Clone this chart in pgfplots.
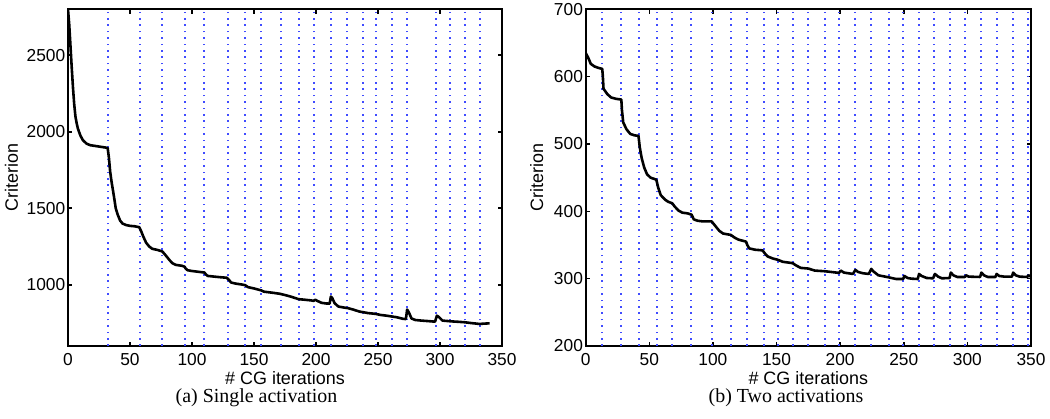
\documentclass[border=0pt]{standalone}
\usepackage{fontspec}
\setmainfont{Liberation Serif}
\setsansfont{Liberation Sans}
\usepackage{pgfplots}
\pgfplotsset{compat=1.18}
\definecolor{dotblue}{rgb}{0.25,0.3,1}
\pgfplotsset{
  mystyle/.style={
    scale only axis,
    anchor=south west,
    axis line style={black, line width=0.9pt},
    tick style={black, line width=0.8pt},
    major tick length=2.2bp,
    tick align=inside,
    xmin=0, xmax=350,
    xtick={0,50,...,350},
    scaled ticks=false,
    /pgf/number format/1000 sep={},
    /pgf/number format/assume math mode=true,
    tick label style={font=\sffamily\fontsize{8.7}{10}\selectfont, black},
    yticklabel style={inner sep=1.2bp},
    label style={font=\sffamily\fontsize{9}{10}\selectfont, black},
    xlabel={\# CG iterations},
    ylabel={Criterion},
    clip=true,
  },
  vl/.style={ycomb, dotblue, line width=1pt, dash pattern=on 0.8bp off 2.4bp, mark=none},
  crv/.style={black, line width=1.3pt, mark=none, line join=round},
}
\begin{document}
\begin{tikzpicture}
\path[use as bounding box] (0,0) rectangle (525bp,209.5bp);
% ---------------- left ----------------
\begin{axis}[mystyle,
  at={(34bp,36.5bp)},
  width=217bp, height=168.35bp,
  ymin=600, ymax=2800,
  ytick={1000,1500,2000,2500},
  xlabel style={at={(axis description cs:0.5,-0.095)}, anchor=center},
  ylabel style={at={(axis description cs:-0.13,0.5)}, anchor=center},
]
\addplot[vl] coordinates {(32,2800) (58,2800) (76,2800) (94,2800) (110,2800) (129,2800) (143,2800) (156,2800) (172,2800) (186,2800) (198,2800) (212,2800) (225,2800) (238,2800) (248,2800) (261,2800) (273,2800) (297,2800) (308,2800) (320,2800) (332,2800)};
\addplot[crv] coordinates {
(0,2800) (1,2700) (2,2560) (3,2420) (4,2290) (5,2180) (6,2100) (7,2055) (8,2020) (10,1975) (12,1945) (15,1922) (18,1912) (22,1907) (26,1902) (30,1897) (32,1893)
(33,1830) (34,1740) (35,1680) (37,1580) (38.5,1500) (40,1460) (42,1420) (44,1400) (47,1390) (50,1385) (54,1382) (57.5,1376)
(59,1350) (61,1310) (63,1275) (65.5,1250) (68,1235) (72,1228) (76,1218)
(78,1200) (80,1180) (82,1160) (84.2,1141) (87,1130) (92,1124) (94,1118)
(95,1105) (96.5,1095) (100,1090) (105,1085) (110,1080)
(111,1070) (112.5,1058) (116,1055) (122,1050) (128,1046)
(130,1030) (131.5,1015) (135,1008) (140,1002) (143,997)
(145,985) (150,976) (156,963) (158,955) (165,948) (171,941) (175,933) (180,922) (186,906) (190,903) (196,898) (198,895) (199.5,902) (201,895)
(204.5,882) (208,878) (211,877) (212,923) (213,915) (215,880) (218,858) (222,852) (226,847) (230,838) (235,825) (238,821) (242,815) (248,810)
(252,803) (257,798) (261,793) (265,788) (270,778) (272.5,776) (273.5,838) (275,818) (277,780) (280,770) (285,766) (290,763) (296,759)
(297.5,798) (299,790) (302,766) (305,764) (309,761) (315,758) (320,755) (325,750) (332,744) (335,746) (340,748)
};
\end{axis}
% ---------------- right ----------------
\begin{axis}[mystyle,
  at={(292.85bp,36.5bp)},
  width=222.65bp, height=168.35bp,
  ymin=200, ymax=700,
  ytick={200,300,...,700},
  xlabel style={at={(axis description cs:0.5,-0.095)}, anchor=center},
  ylabel style={at={(axis description cs:-0.11,0.5)}, anchor=center},
]
\addplot[vl] coordinates {(13,700) (28,700) (42,700) (56,700) (68,700) (83,700) (99,700) (114,700) (127,700) (140,700) (151,700) (163,700) (175,700) (188,700) (199,700) (212,700) (224,700) (238,700) (249,700) (262,700) (274,700) (286,700) (298,700) (311,700) (323,700) (336,700) (348,700)};
\addplot[crv] coordinates {
(0,635) (2,628) (4,619) (7,615) (10,613) (13,611.5)
(13.5,600) (14,582) (17,574) (20,569) (24,567) (28,566)
(28.5,550) (29.5,532) (32,522) (35,515) (38,513) (41.5,512)
(42.5,495) (44,479) (46,465) (48.2,455) (51,450) (55.5,447)
(57,435) (59,424) (62.6,417) (65,414) (68,412)
(70,407) (73,401) (76,398) (80,397) (83.2,395)
(85,388) (88,386) (92,385) (99,385)
(102,378) (105,371) (108,367) (114,365)
(117,361) (120,358) (126,355)
(127,350) (128.5,345) (133,343) (139,342)
(141,337) (143,333) (147,330) (151,328)
(155,325) (159,324) (162.7,323) (165,320) (169,316) (175,315) (180,312) (188,311) (195,309.5) (199,308.5)
(200.5,312) (203,309) (210,307) (212,313) (214,310) (218,308) (222.5,307) (224.5,314.5) (226,311) (230,305) (234,303.5) (238,302) (244,299.5) (249.5,299.5)
(250.5,304) (253,301) (256,300) (261,299.5) (262,307) (264,304) (268,301) (273,300.5) (274.5,307) (277,303) (280,300.5) (286,301)
(287,309) (289,305) (292,302.5) (298,302.5) (299,305) (301,303) (310,302.5) (311,309) (313,305) (316,302.5) (322,302.5) (323,307) (325,304) (329,303) (335,303) (336,309) (338,305) (341,303) (347,302.5) (348,305) (350,303)
};
\end{axis}
\node[font=\rmfamily\fontsize{10}{12}\selectfont, anchor=center] at (128.25bp,10.5bp) {(a) Single activation};
\node[font=\rmfamily\fontsize{10}{12}\selectfont, anchor=center] at (393bp,10.5bp) {(b) Two activations};
\end{tikzpicture}
\end{document}
